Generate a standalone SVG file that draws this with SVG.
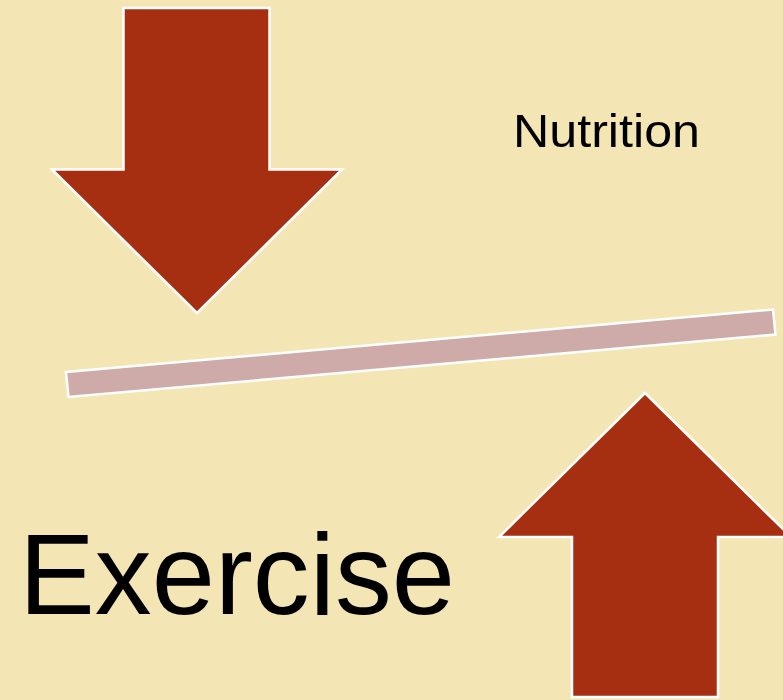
<svg xmlns="http://www.w3.org/2000/svg" width="783" height="700" viewBox="0 0 783 700">
  <defs>
    <style>
      .arrow { fill: #A52F10; stroke: #FFFFFF; stroke-width: 2.5; stroke-linejoin: miter; }
      .bar { fill: #CEAAA8; stroke: #FFFFFF; stroke-width: 2.5; }
      .label { font-family: "Liberation Sans", Arial, sans-serif; fill: #000000; }
    </style>
  </defs>
  <rect x="0" y="0" width="783" height="700" fill="#F4E6B4"/>
  <g id="arrow-down">
    <polygon class="arrow" points="123.5,8 269.5,8 269.5,169.5 342,169.5 197,313 52,169.5 123.5,169.5"/>
  </g>
  <g id="arrow-up">
    <polygon class="arrow" points="645,393 791,537 718,537 718,697 572,697 572,537 499,537"/>
  </g>
  <g id="beam">
    <polygon class="bar" points="66,372 773,309.5 775.5,334.5 68.5,397"/>
  </g>
  <g id="nutrition">
    <text class="label" x="513" y="147" font-size="46" textLength="187" lengthAdjust="spacingAndGlyphs">Nutrition</text>
  </g>
  <g id="exercise">
    <text class="label" x="19" y="614" font-size="115" textLength="436" lengthAdjust="spacingAndGlyphs">Exercise</text>
  </g>
</svg>
